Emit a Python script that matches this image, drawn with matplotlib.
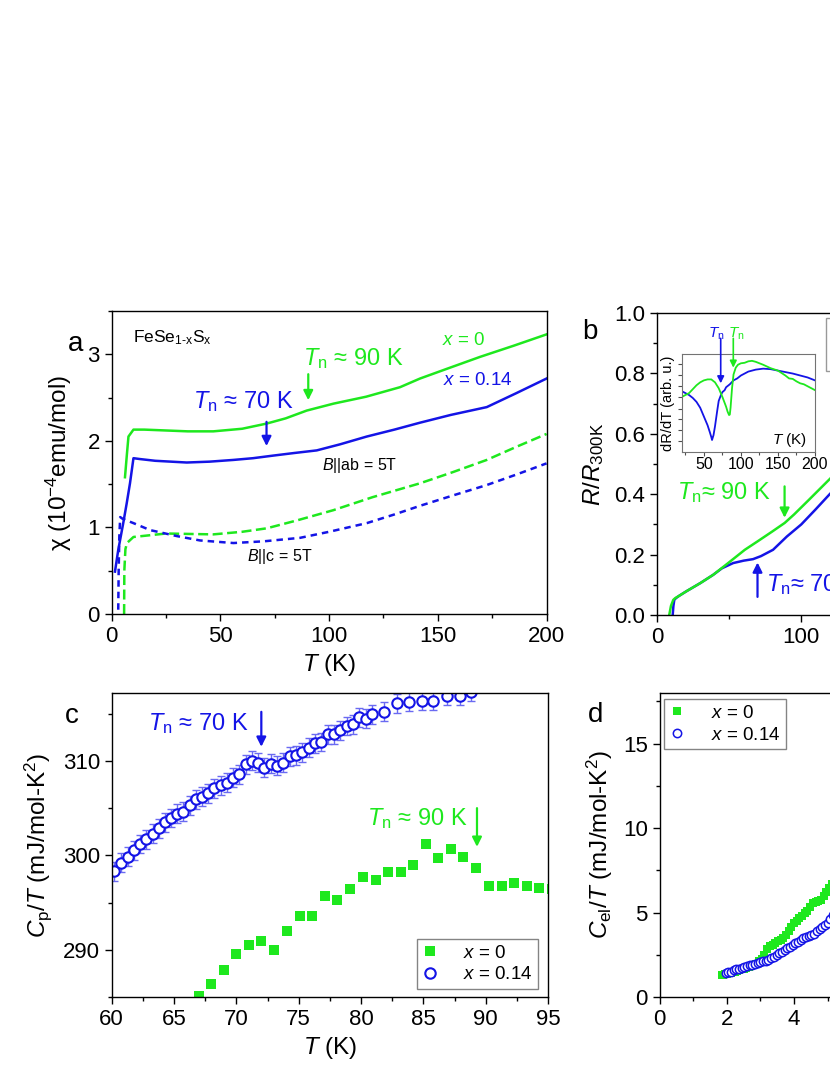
import matplotlib
matplotlib.use("Agg")
import matplotlib.pyplot as plt
from matplotlib.ticker import AutoMinorLocator, MultipleLocator

# colours
GREEN = "#1ee81e"
BLUE = "#1414e6"

plt.rcParams['font.family'] = ['Liberation Sans', 'DejaVu Sans']
plt.rcParams['mathtext.fontset'] = 'custom'
plt.rcParams['mathtext.rm'] = 'Liberation Sans'
plt.rcParams['mathtext.it'] = 'Liberation Sans:italic'
plt.rcParams['mathtext.bf'] = 'Liberation Sans:bold'

# ---- panel a: susceptibility, B||ab (solid) and B||c (dashed)
a_T_x0_ab = [6.1, 7.0, 7.7, 10, 15, 25, 35, 46.7, 60, 71.3, 80, 89.7, 102, 117, 132.6, 141.8, 155, 169.4, 185, 200]
a_chi_x0_ab = [1.58, 1.85, 2.05, 2.13, 2.13, 2.12, 2.11, 2.11, 2.14, 2.20, 2.26, 2.35, 2.43, 2.51, 2.62, 2.72, 2.84, 2.97, 3.10, 3.23]
a_T_x14_ab = [1.5, 3.0, 5.3, 6.9, 8.4, 10, 13, 20, 34.5, 45, 56, 65, 74.3, 84, 94.3, 105, 117.3, 130, 141.8, 156, 172.5, 186, 200]
a_chi_x14_ab = [0.49, 0.74, 1.05, 1.28, 1.51, 1.80, 1.79, 1.77, 1.75, 1.76, 1.78, 1.80, 1.83, 1.86, 1.89, 1.96, 2.05, 2.13, 2.21, 2.30, 2.39, 2.55, 2.72]
a_T_x0_c = [5.7, 5.8, 6.3, 7.0, 10, 25, 46.7, 60, 71.3, 85, 102, 120, 141.8, 157, 172.5, 186, 200]
a_chi_x0_c = [0.0, 0.5, 0.75, 0.82, 0.89, 0.93, 0.92, 0.95, 0.99, 1.08, 1.20, 1.35, 1.51, 1.64, 1.78, 1.93, 2.08]
a_T_x14_c = [3.0, 3.2, 3.5, 3.9, 5, 10, 17.6, 30, 40.6, 56, 70, 86.6, 100, 117.3, 130, 141.8, 157, 172.5, 186, 200]
a_chi_x14_c = [0.05, 0.5, 0.9, 1.12, 1.10, 1.05, 0.97, 0.90, 0.85, 0.82, 0.84, 0.88, 0.95, 1.05, 1.15, 1.25, 1.37, 1.49, 1.61, 1.74]

# ---- panel b: normalised resistance
b_T_x0 = [8.3, 9.5, 11.1, 12.5, 15, 20, 30, 38.8, 50, 60.8, 70, 80, 88.5, 95, 105, 119.7, 130]
b_R_x0 = [0.0, 0.03, 0.05, 0.056, 0.063, 0.078, 0.106, 0.133, 0.175, 0.216, 0.245, 0.277, 0.305, 0.333, 0.38, 0.45, 0.50]
b_T_x14 = [10.7, 11.2, 11.8, 13, 15, 20, 30, 38.8, 45, 52.7, 60, 66.5, 72, 80.4, 90, 100, 110, 119.7, 130]
b_R_x14 = [0.0, 0.03, 0.05, 0.056, 0.063, 0.078, 0.106, 0.133, 0.155, 0.172, 0.180, 0.185, 0.195, 0.216, 0.26, 0.30, 0.35, 0.40, 0.45]

# inset: dR/dT (arb. u.)
in_T_x14 = [20, 25, 30, 35, 40, 45, 50, 55, 58, 60, 61, 63, 65, 68, 70, 73, 75, 78, 80, 85, 90, 95, 100, 110, 120, 130, 140, 150, 160, 170, 180, 190, 200]
in_y_x14 = [0.62, 0.60, 0.58, 0.55, 0.51, 0.45, 0.36, 0.27, 0.20, 0.15, 0.12, 0.17, 0.26, 0.42, 0.52, 0.58, 0.61, 0.63, 0.66, 0.69, 0.73, 0.75, 0.78, 0.82, 0.84, 0.85, 0.845, 0.83, 0.815, 0.80, 0.78, 0.76, 0.73]
in_T_x0 = [20, 25, 30, 35, 40, 45, 50, 55, 60, 65, 70, 75, 78, 80, 82, 84, 85, 86, 87, 88, 90, 93, 96, 100, 105, 110, 115, 120, 130, 140, 150, 160, 165, 170, 175, 180, 185, 190, 195, 200]
in_y_x0 = [0.56, 0.58, 0.60, 0.64, 0.68, 0.71, 0.73, 0.74, 0.74, 0.71, 0.65, 0.56, 0.50, 0.46, 0.41, 0.375, 0.38, 0.45, 0.55, 0.65, 0.79, 0.86, 0.89, 0.905, 0.91, 0.925, 0.93, 0.92, 0.89, 0.855, 0.83, 0.78, 0.75, 0.745, 0.72, 0.70, 0.69, 0.67, 0.65, 0.63]

# ---- panel c: Cp/T around Tn
c_T_x0 = [67.0, 68.0, 69.0, 70.0, 71.0, 72.0, 73.0, 74.1, 75.1, 76.1, 77.1, 78.1, 79.1, 80.15, 81.2, 82.2, 83.2, 84.2, 85.2, 86.2, 87.2, 88.2, 89.2, 90.3, 91.3, 92.3, 93.3, 94.3, 95.3]
c_C_x0 = [285.1, 286.4, 287.9, 289.5, 290.5, 290.9, 290.0, 292.0, 293.6, 293.6, 295.7, 295.3, 296.4, 297.7, 297.4, 298.2, 298.2, 299.0, 301.2, 299.7, 300.7, 299.8, 298.7, 296.7, 296.7, 297.1, 296.7, 296.5, 296.4]
c_T_x14 = [60.2, 60.77, 61.28, 61.8, 62.26, 62.77, 63.29, 63.76, 64.27, 64.78, 65.27, 65.75, 66.25, 66.77, 67.25, 67.75,
           68.24, 68.75, 69.25, 69.76, 70.24, 70.75, 71.26, 71.77, 72.25, 72.76, 73.27, 73.77, 74.29, 74.79, 75.3, 75.81,
           76.32, 76.82, 77.33, 77.84, 78.35, 78.86, 79.34, 79.85, 80.36, 80.87, 81.85, 82.87, 83.86, 84.88, 85.8, 86.9, 87.9, 88.8]
c_C_x14 = [298.3, 299.2, 299.85, 300.55, 301.2, 301.7, 302.3, 302.85, 303.5, 303.95, 304.4, 304.6, 305.3, 305.95, 306.2, 306.55,
           307.1, 307.4, 307.7, 308.2, 308.6, 309.65, 310.0, 309.8, 309.3, 309.7, 309.5, 309.8, 310.5, 310.6, 310.9, 311.4,
           311.85, 312.0, 312.8, 312.8, 313.25, 313.7, 313.9, 314.6, 314.45, 314.95, 315.2, 316.1, 316.25, 316.35, 316.35, 316.9, 316.9, 317.3]
c_err_x14 = [1.0] * len(c_T_x14)

# ---- panel d: Cel/T at low T
d_T_x0 = [1.85, 1.9, 1.95, 2.0, 2.06, 2.12, 2.18, 2.24, 2.3, 2.37, 2.44, 2.51, 2.58, 2.65, 2.72, 2.8, 2.88, 2.96, 3.04, 3.12,
          3.2, 3.28, 3.36, 3.44, 3.52, 3.6, 3.68, 3.76, 3.84, 3.92, 4.0, 4.08, 4.16, 4.24, 4.32, 4.4, 4.48, 4.56, 4.64, 4.72,
          4.8, 4.88, 4.96, 5.04, 5.12]
d_C_x0 = [1.28, 1.31, 1.33, 1.36, 1.39, 1.42, 1.46, 1.5, 1.54, 1.58, 1.63, 1.68, 1.73, 1.79, 1.85, 1.9, 1.98, 2.1, 2.25, 2.5,
          2.85, 3.0, 3.1, 3.2, 3.3, 3.4, 3.5, 3.65, 3.9, 4.15, 4.35, 4.5, 4.65, 4.8, 4.95, 5.1, 5.3, 5.55, 5.65, 5.7,
          5.72, 5.95, 6.2, 6.45, 6.7]
d_T_x14 = [1.98, 2.05, 2.12, 2.2, 2.28, 2.36, 2.44, 2.52, 2.6, 2.68, 2.76, 2.84, 2.92, 3.0, 3.08, 3.16, 3.24, 3.32, 3.4, 3.48,
           3.56, 3.64, 3.72, 3.8, 3.88, 3.96, 4.04, 4.12, 4.2, 4.28, 4.36, 4.44, 4.52, 4.6, 4.68, 4.76, 4.84, 4.92, 5.0, 5.08, 5.16]
d_C_x14 = [1.40, 1.45, 1.5, 1.57, 1.63, 1.68, 1.72, 1.77, 1.82, 1.87, 1.92, 1.97, 2.02, 2.06, 2.1, 2.14, 2.2, 2.3, 2.38, 2.48,
           2.58, 2.68, 2.78, 2.88, 2.98, 3.08, 3.18, 3.27, 3.37, 3.47, 3.55, 3.62, 3.65, 3.75, 3.88, 4.0, 4.12, 4.25, 4.4, 4.6, 4.85]

TN = r"$T_{\mathregular{n}}$"
TK = r"$T$ (K)"
TICK_FS = 16
LABEL_FS = 17.5


def style_axes(ax, labelsize=TICK_FS):
    ax.tick_params(which='both', direction='out', top=False, right=False, labelsize=labelsize, width=1)
    ax.tick_params(which='major', length=5)
    ax.tick_params(which='minor', length=3)
    ax.xaxis.set_minor_locator(AutoMinorLocator(2))
    ax.yaxis.set_minor_locator(AutoMinorLocator(2))
    for s in ax.spines.values():
        s.set_linewidth(1.0)


def arrow(ax, x, y0, y1, color, lw=1.6, ms=14):
    ax.annotate("", xy=(x, y1), xytext=(x, y0),
                arrowprops=dict(arrowstyle='-|>', color=color, lw=lw, mutation_scale=ms, shrinkA=0, shrinkB=0),
                annotation_clip=False)


def small_legend(ax, **kw):
    ax.legend(fontsize=13.5, frameon=True, fancybox=False, edgecolor='0.4', borderaxespad=0,
              handlelength=0.8, handletextpad=1.4, labelspacing=0.25, borderpad=0.3, **kw)


fig = plt.figure(figsize=(8.3, 10.75), dpi=100)

# ---------------- panel a
ax_a = fig.add_axes([0.1346, 0.4288, 0.5239, 0.2819])
ax_a.plot(a_T_x0_ab, a_chi_x0_ab, color=GREEN, lw=1.8)
ax_a.plot(a_T_x14_ab, a_chi_x14_ab, color=BLUE, lw=1.8)
ax_a.plot(a_T_x0_c, a_chi_x0_c, color=GREEN, lw=1.8, dashes=(4, 1.8))
ax_a.plot(a_T_x14_c, a_chi_x14_c, color=BLUE, lw=1.8, dashes=(2.6, 2.0))
ax_a.set_xlim(0, 200)
ax_a.set_ylim(0, 3.5)
ax_a.xaxis.set_major_locator(MultipleLocator(50))
ax_a.yaxis.set_major_locator(MultipleLocator(1))
style_axes(ax_a)
ax_a.set_xlabel(TK, fontsize=LABEL_FS, labelpad=4)
ax_a.set_ylabel(r"χ (10$^{\mathregular{-4}}$emu/mol)", fontsize=LABEL_FS, labelpad=10)
ax_a.text(9.8, 3.19, r"FeSe$_{\mathregular{1\text{-}x}}$S$_{\mathregular{x}}$", fontsize=12.5, va='center')
ax_a.text(-16.5, 3.12, "a", fontsize=20, ha='center', va='center')
ax_a.text(88, 2.95, TN + " ≈ 90 K", color=GREEN, fontsize=17, va='center')
arrow(ax_a, 90.4, 2.77, 2.47, GREEN)
ax_a.text(37.4, 2.45, TN + " ≈ 70 K", color=BLUE, fontsize=17, va='center')
arrow(ax_a, 71.2, 2.22, 1.94, BLUE)
ax_a.text(151.8, 3.16, r"$x$ = 0", color=GREEN, fontsize=13.5, va='center')
ax_a.text(152.4, 2.70, r"$x$ = 0.14", color=BLUE, fontsize=13.5, va='center')
ax_a.text(96.6, 1.72, r"$B$||ab = 5T", fontsize=11.5, va='center')
ax_a.text(62.1, 0.66, r"$B$||c = 5T", fontsize=11.5, va='center')

# ---------------- panel b
ax_b = fig.add_axes([0.7919, 0.4279, 0.5205, 0.2809])
ax_b.plot(b_T_x14, b_R_x14, color=BLUE, lw=1.8, label=r"$x$ = 0.14")
ax_b.plot(b_T_x0, b_R_x0, color=GREEN, lw=1.8, label=r"$x$ = 0")
ax_b.set_xlim(0, 300)
ax_b.set_ylim(0, 1.0)
ax_b.xaxis.set_major_locator(MultipleLocator(100))
ax_b.yaxis.set_major_locator(MultipleLocator(0.2))
ax_b.yaxis.set_major_formatter(matplotlib.ticker.FormatStrFormatter('%.1f'))
style_axes(ax_b)
ax_b.set_ylabel(r"$R/R_{\mathregular{300K}}$", fontsize=LABEL_FS, labelpad=6)
ax_b.text(-47, 0.937, "b", fontsize=20, ha='center', va='center')
ax_b.text(13.4, 0.405, TN + "≈ 90 K", color=GREEN, fontsize=17, va='center')
arrow(ax_b, 88.4, 0.426, 0.322, GREEN)
ax_b.text(75.8, 0.10, TN + "≈ 70 K", color=BLUE, fontsize=17, va='center')
arrow(ax_b, 69.6, 0.06, 0.174, BLUE)
ax_b.legend(loc='upper left', bbox_to_anchor=(0.39, 0.985), fontsize=12, frameon=True,
            fancybox=False, edgecolor='0.5', borderaxespad=0)

# inset
ax_in = fig.add_axes([0.8213, 0.5798, 0.1606, 0.0909])
ax_in.plot(in_T_x14, in_y_x14, color=BLUE, lw=1.3)
ax_in.plot(in_T_x0, in_y_x0, color=GREEN, lw=1.3)
ax_in.set_xlim(20, 200)
ax_in.set_ylim(0, 1)
ax_in.xaxis.set_major_locator(MultipleLocator(50))
ax_in.xaxis.set_minor_locator(AutoMinorLocator(2))
ax_in.set_yticks([0.11, 0.22, 0.33, 0.44, 0.56, 0.67, 0.785, 0.90])
ax_in.set_yticklabels([])
ax_in.tick_params(which='both', direction='out', top=False, right=False, labelsize=11.5, width=0.8, color='0.3', pad=1)
ax_in.tick_params(which='major', length=3)
ax_in.tick_params(which='minor', length=2)
for s in ax_in.spines.values():
    s.set_linewidth(0.8)
    s.set_color('0.45')
ax_in.set_ylabel("dR/dT (arb. u.)", fontsize=10.5, labelpad=1)
ax_in.text(0.675, 0.12, TK, transform=ax_in.transAxes, fontsize=11, va='center')
ax_in.text(66.4, 1.21, TN, color=BLUE, fontsize=11, ha='center', va='center',
           transform=ax_in.get_xaxis_transform(), clip_on=False)
ax_in.text(93.4, 1.21, TN, color=GREEN, fontsize=11, ha='center', va='center',
           transform=ax_in.get_xaxis_transform(), clip_on=False)
arrow(ax_in, 72.7, 1.16, 0.70, BLUE, lw=1.2, ms=10)
arrow(ax_in, 89.7, 1.16, 0.86, GREEN, lw=1.2, ms=10)

# ---------------- panel c
ax_c = fig.add_axes([0.1346, 0.0726, 0.5257, 0.2828])
ax_c.plot(c_T_x0, c_C_x0, 's', color=GREEN, ms=6.5, mew=0, label=r"$x$ = 0")
ax_c.errorbar(c_T_x14, c_C_x14, yerr=c_err_x14, fmt='none', ecolor='#6a6af2', elinewidth=1.0, capsize=3, capthick=1.0)
ax_c.plot(c_T_x14, c_C_x14, 'o', mfc='white', mec=BLUE, ms=7.5, mew=1.5, label=r"$x$ = 0.14")
ax_c.set_xlim(60, 95)
ax_c.set_ylim(285, 317.2)
ax_c.xaxis.set_major_locator(MultipleLocator(5))
ax_c.yaxis.set_major_locator(MultipleLocator(10))
style_axes(ax_c)
ax_c.set_xlabel(TK, fontsize=LABEL_FS, labelpad=4)
ax_c.set_ylabel(r"$C_{\mathregular{p}}/T$ (mJ/mol-K$^{\mathregular{2}}$)", fontsize=LABEL_FS, labelpad=6)
ax_c.text(56.8, 314.8, "c", fontsize=20, ha='center', va='center')
ax_c.text(62.9, 314.0, TN + " ≈ 70 K", color=BLUE, fontsize=17, va='center')
arrow(ax_c, 72.0, 315.2, 311.5, BLUE)
ax_c.text(80.5, 303.9, TN + " ≈ 90 K", color=GREEN, fontsize=17, va='center')
arrow(ax_c, 89.3, 305.0, 300.9, GREEN)
small_legend(ax_c, loc='lower right', bbox_to_anchor=(0.978, 0.026))

# ---------------- panel d
ax_d = fig.add_axes([0.7947, 0.0726, 0.5263, 0.2828])
ax_d.plot(d_T_x0, d_C_x0, 's', color=GREEN, ms=5.5, mew=0, label=r"$x$ = 0")
ax_d.plot(d_T_x14, d_C_x14, 'o', mfc='white', mec=BLUE, ms=6, mew=1.1, label=r"$x$ = 0.14")
ax_d.set_xlim(0, 13)
ax_d.set_ylim(0, 18)
ax_d.xaxis.set_major_locator(MultipleLocator(2))
ax_d.yaxis.set_major_locator(MultipleLocator(5))
style_axes(ax_d)
ax_d.set_ylabel(r"$C_{\mathregular{el}}/T$ (mJ/mol-K$^{\mathregular{2}}$)", fontsize=LABEL_FS, labelpad=6)
ax_d.text(-1.92, 16.7, "d", fontsize=20, ha='center', va='center')
small_legend(ax_d, loc='upper left', bbox_to_anchor=(0.010, 0.980))

fig.savefig("out.png", dpi=100)
